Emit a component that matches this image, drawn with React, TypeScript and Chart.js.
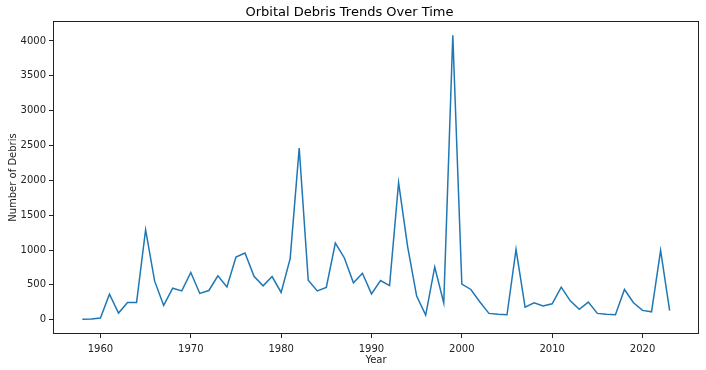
import React, { useEffect, useRef } from "react";
import { Chart, registerables } from "chart.js";

Chart.register(...registerables);

const years: number[] = [
  1958, 1959, 1960, 1961, 1962, 1963, 1964, 1965, 1966, 1967, 1968, 1969,
  1970, 1971, 1972, 1973, 1974, 1975, 1976, 1977, 1978, 1979, 1980, 1981,
  1982, 1983, 1984, 1985, 1986, 1987, 1988, 1989, 1990, 1991, 1992, 1993,
  1994, 1995, 1996, 1997, 1998, 1999, 2000, 2001, 2002, 2003, 2004, 2005,
  2006, 2007, 2008, 2009, 2010, 2011, 2012, 2013, 2014, 2015, 2016, 2017,
  2018, 2019, 2020, 2021, 2022, 2023,
];

const debris: number[] = [
  5, 10, 25, 367, 96, 248, 248, 1291, 553, 205, 452, 414,
  677, 377, 419, 629, 471, 900, 957, 624, 486, 620, 391, 877,
  2463, 567, 414, 462, 1100, 886, 529, 667, 371, 562, 490, 1967,
  1050, 339, 67, 757, 240, 4081, 510, 434, 255, 91, 77, 70,
  1010, 181, 243, 196, 229, 467, 271, 149, 253, 91, 77, 70,
  434, 243, 134, 114, 996, 129,
];

const xTicks: number[] = [1960, 1970, 1980, 1990, 2000, 2010, 2020];
const yTicks: number[] = [0, 500, 1000, 1500, 2000, 2500, 3000, 3500, 4000];

const FONT = "'DejaVu Sans', sans-serif";

const boxPlugin = {
  id: "frameBox",
  afterDraw(chart: any) {
    const { ctx, chartArea } = chart;
    ctx.save();
    ctx.strokeStyle = "#222";
    ctx.lineWidth = 1;
    ctx.strokeRect(
      Math.round(chartArea.left) + 0.5,
      Math.round(chartArea.top) + 0.5,
      Math.round(chartArea.right - chartArea.left) - 1,
      Math.round(chartArea.bottom - chartArea.top) - 1
    );
    ctx.restore();
  },
};

export default function App() {
  const ref = useRef<HTMLCanvasElement | null>(null);

  useEffect(() => {
    if (!ref.current) return;
    const chart = new Chart(ref.current, {
      type: "line",
      data: {
        datasets: [
          {
            label: "Number of Debris",
            data: years.map((y, i) => ({ x: y, y: debris[i] })),
            borderColor: "#1f77b4",
            backgroundColor: "#1f77b4",
            borderWidth: 1.5,
            pointRadius: 0,
            tension: 0,
            fill: false,
          },
        ],
      },
      options: {
        responsive: false,
        animation: false,
        layout: { padding: { left: 0, right: 7, top: 0, bottom: 0 } },
        plugins: {
          legend: { display: false },
          tooltip: { enabled: false },
          title: {
            display: true,
            text: "Orbital Debris Trends Over Time",
            color: "#000",
            font: { family: FONT, size: 13, weight: "normal" },
            padding: { top: 5, bottom: 0.5 },
          },
        },
        scales: {
          x: {
            type: "linear",
            min: 1954.75,
            max: 2026.25,
            afterBuildTicks: (scale: any) => {
              scale.ticks = xTicks.map((v) => ({ value: v }));
            },
            afterFit: (scale: any) => {
              scale.height = 36;
            },
            grid: {
              display: true,
              drawOnChartArea: false,
              drawTicks: true,
              tickLength: 4,
              tickColor: "#222",
            },
            border: { display: false },
            ticks: {
              color: "#222",
              font: { family: FONT, size: 10 },
              padding: 5,
              maxRotation: 0,
              autoSkip: false,
              callback: (v: any) => String(v),
            },
            title: {
              display: true,
              text: "Year",
              color: "#222",
              font: { family: FONT, size: 10 },
              padding: { top: 0, bottom: 4 },
            },
          },
          y: {
            type: "linear",
            min: -205,
            max: 4285,
            afterBuildTicks: (scale: any) => {
              scale.ticks = yTicks.map((v) => ({ value: v }));
            },
            afterFit: (scale: any) => {
              scale.width = 53;
            },
            grid: {
              display: true,
              drawOnChartArea: false,
              drawTicks: true,
              tickLength: 4,
              tickColor: "#222",
            },
            border: { display: false },
            ticks: {
              color: "#222",
              font: { family: FONT, size: 10 },
              padding: 3,
              autoSkip: false,
              callback: (v: any) => String(v),
            },
            title: {
              display: true,
              text: "Number of Debris",
              color: "#222",
              font: { family: FONT, size: 10 },
              padding: { top: 7, bottom: 0 },
            },
          },
        },
      },
      plugins: [boxPlugin],
    });
    return () => chart.destroy();
  }, []);

  return (
    <div style={{ position: "fixed", left: 0, top: 0, width: 706, height: 370, background: "#fff" }}>
      <canvas ref={ref} width={706} height={370} style={{ display: "block" }} />
    </div>
  );
}
